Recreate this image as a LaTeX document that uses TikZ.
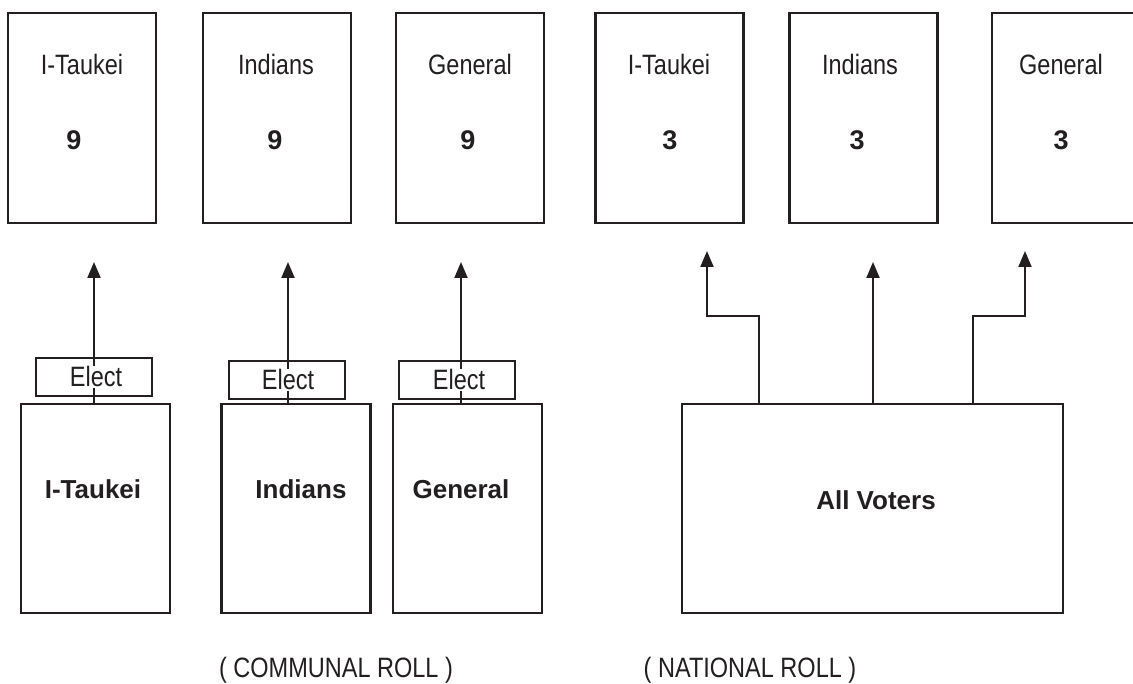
\documentclass[tikz,border=0pt]{standalone}
\usepackage{fontspec}
\setmainfont{Liberation Sans}
\newfontfamily\narrowfont{Liberation Sans}[FakeStretch=0.84]
\usetikzlibrary{arrows.meta}
\definecolor{ink}{HTML}{231F20}
\tikzset{
  seatbox/.style={draw=ink, line width=2.2pt, inner sep=0pt,
    minimum width=148pt, minimum height=210pt},
  rollbox/.style={draw=ink, line width=2.2pt, inner sep=0pt,
    minimum width=149pt, minimum height=209pt},
  electbox/.style={draw=ink, line width=2pt, inner sep=0pt,
    minimum width=116pt, minimum height=38pt},
  plain/.style={text=ink, anchor=base, inner sep=0pt,
    font=\narrowfont\fontsize{28}{30}\selectfont},
  electtext/.style={plain, fill=white, inner sep=1pt},
  seatnum/.style={text=ink, anchor=base, inner sep=0pt,
    font=\bfseries\fontsize{27}{30}\selectfont},
  rolltext/.style={text=ink, anchor=base, inner sep=0pt,
    font=\bfseries\fontsize{26}{30}\selectfont},
  elects/.style={draw=ink, line width=2pt,
    -{Triangle[width=13pt,length=16pt]}},
}
\begin{document}
\begin{tikzpicture}[x=1pt, y=-1pt]
\clip (0,0) rectangle (1133,684);
\fill[white] (0,0) rectangle (1133,684);

% seats in parliament
\node[seatbox] (t1) at (82,118) {};
\node[seatbox] (t2) at (277,118) {};
\node[seatbox] (t3) at (470,118) {};
\node[seatbox] (t4) at (669.5,118) {};
\node[seatbox] (t5) at (863.5,118) {};
\node[seatbox] (t6) at (1066,118) {};

\node[plain] (t1l) at (82,75) {I-Taukei};
\node[plain] (t2l) at (276,75) {Indians};
\node[plain] (t3l) at (470,75) {General};
\node[plain] (t4l) at (669,75) {I-Taukei};
\node[plain] (t5l) at (860,75) {Indians};
\node[plain] (t6l) at (1061,75) {General};

\node[seatnum] (t1n) at (74,150) {9};
\node[seatnum] (t2n) at (275,150) {9};
\node[seatnum] (t3n) at (468,150) {9};
\node[seatnum] (t4n) at (670,150) {3};
\node[seatnum] (t5n) at (857,150) {3};
\node[seatnum] (t6n) at (1061,150) {3};

% communal roll voters
\node[rollbox] (b1) at (95.5,508.5) {};
\node[rollbox] (b2) at (296,508.5) {};
\node[rollbox] (b3) at (467.5,508.5) {};
\node[rolltext] (b1l) at (93,498) {I-Taukei};
\node[rolltext] (b2l) at (301,498) {Indians};
\node[rolltext] (b3l) at (461,498) {General};

% national roll voters
\node[draw=ink, line width=2.2pt, inner sep=0pt,
  minimum width=381pt, minimum height=209pt] (av) at (872.5,508.5) {};
\node[rolltext] (avl) at (876,509) {All Voters};

% arrow tips
\coordinate (c1) at (94,262);
\coordinate (c2) at (288,262);
\coordinate (c3) at (461,262);
\coordinate (n1) at (707,251);
\coordinate (n2) at (873,262);
\coordinate (n3) at (1025,251);

% communal roll connectors
\draw[elects] (b1.north -| c1) -- (c1);
\draw[elects] (b2.north -| c2) -- (c2);
\draw[elects] (b3.north -| c3) -- (c3);

\node[electbox] (e1) at (94,377) {};
\node[electbox] (e2) at (287,380) {};
\node[electbox] (e3) at (457,380) {};
\node[electtext] (e1t) at (96,387) {Elect};
\node[electtext] (e2t) at (288,390) {Elect};
\node[electtext] (e3t) at (459,390) {Elect};

% national roll connectors
\draw[elects] (av.north -| 759,0) -- (759,316) -| (n1);
\draw[elects] (av.north -| n2) -- (n2);
\draw[elects] (av.north -| 973,0) -- (973,316) -| (n3);

% roll captions
\node[plain] (cr) at (336,677) {( COMMUNAL ROLL )};
\node[plain] (nr) at (750,677) {( NATIONAL ROLL )};
\end{tikzpicture}
\end{document}
